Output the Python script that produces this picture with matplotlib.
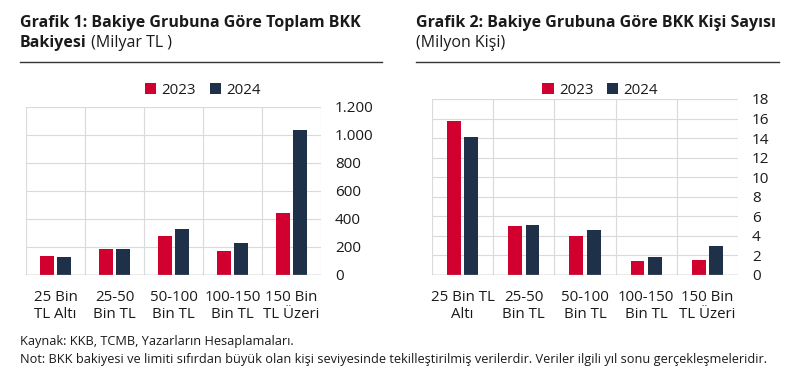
import numpy as np
import matplotlib
matplotlib.use("Agg")
import matplotlib.pyplot as plt
from matplotlib.lines import Line2D
from matplotlib.ticker import FuncFormatter

plt.rcParams['font.family'] = ['Open Sans', 'DejaVu Sans']

# data
years = ['2023', '2024']
groups1 = ['25 Bin\nTL Altı', '25-50\nBin TL', '50-100\nBin TL', '100-150\nBin TL', '150 Bin\nTL Üzeri']
groups2 = ['25 Bin TL\nAltı', '25-50\nBin TL', '50-100\nBin TL', '100-150\nBin TL', '150 Bin\nTL Üzeri']
bakiye_2023 = [138, 183, 280, 171, 444]
bakiye_2024 = [126, 188, 326, 228, 1036]
kisi_2023 = [15.7, 5.05, 4.0, 1.43, 1.57]
kisi_2024 = [14.1, 5.16, 4.6, 1.88, 2.94]
ticks1 = [0, 200, 400, 600, 800, 1000, 1200]
ticks2 = [0, 2, 4, 6, 8, 10, 12, 14, 16, 18]

red = '#D2002E'
navy = '#1E3148'
grid_c = '#DADADA'
txt = '#1a1a1a'

fig = plt.figure(figsize=(8, 3.7), dpi=100)
ax1 = fig.add_axes([26/800, 1-275/370, 295/800, 168.3/370])
ax2 = fig.add_axes([432/800, 1-275/370, 306/800, 176/370])

def thousands(v, pos):
    return '{:,.0f}'.format(v).replace(',', '.')

def draw(ax, labels, a, b, ticks, fmt):
    x = np.arange(len(labels))
    w = 0.225
    off = 0.142
    ax.bar(x - off, a, w, color=red, label=years[0], zorder=3)
    ax.bar(x + off, b, w, color=navy, label=years[1], zorder=3)
    ax.set_xlim(-0.5, len(labels) - 0.5)
    ax.set_ylim(ticks[0], ticks[-1])
    ax.set_yticks(ticks)
    if fmt:
        ax.yaxis.set_major_formatter(FuncFormatter(thousands))
    ax.yaxis.tick_right()
    ax.tick_params(axis='y', length=0, pad=10, labelsize=11, labelcolor=txt)
    ax.set_xticks(x)
    ax.set_xticklabels(labels, linespacing=1.2)
    ax.tick_params(axis='x', length=0, pad=11, labelsize=10.8, labelcolor=txt)
    for s in ax.spines.values():
        s.set_visible(False)
    for t in ticks[1:]:
        ax.axhline(t, color=grid_c, lw=0.8, zorder=1)
    for xb in np.arange(-0.5, len(labels), 1.0):
        ax.axvline(xb, color=grid_c, lw=0.8, zorder=1)
    ax.axhline(0, color='#9a9a9a', lw=1.0, zorder=4)

draw(ax1, groups1, bakiye_2023, bakiye_2024, ticks1, True)
draw(ax2, groups2, kisi_2023, kisi_2024, ticks2, False)

for ax, cx in [(ax1, 203/800), (ax2, 600/800)]:
    h, l = ax.get_legend_handles_labels()
    fig.legend(h, l, loc='center', bbox_to_anchor=(cx, 1-90/370), ncol=2, frameon=False,
               fontsize=10.8, handlelength=0.75, handleheight=0.75, handletextpad=0.35,
               columnspacing=0.9, borderpad=0, labelcolor=txt)

# titles
fig.text(20/800, 1-27/370, 'Grafik 1: Bakiye Grubuna Göre Toplam BKK', fontsize=11.5,
         fontweight='bold', color=txt, va='baseline')
t1 = fig.text(20/800, 1-47/370, 'Bakiyesi', fontsize=11.5, fontweight='bold', color=txt, va='baseline')
ax1.annotate(' (Milyar TL )', xy=(1, 0), xycoords=t1, fontsize=11.5, color=txt,
             va='bottom', ha='left', annotation_clip=False)
fig.text(416/800, 1-27/370, 'Grafik 2: Bakiye Grubuna Göre BKK Kişi Sayısı', fontsize=11.5,
         fontweight='bold', color=txt, va='baseline')
fig.text(416/800, 1-47/370, '(Milyon Kişi)', fontsize=11.5, color=txt, va='baseline')

fig.add_artist(Line2D([20/800, 382/800], [1-61.5/370]*2, color='#333333', lw=1.0))
fig.add_artist(Line2D([416/800, 779/800], [1-61.5/370]*2, color='#333333', lw=1.0))

fig.text(20/800, 1-345/370, 'Kaynak: KKB, TCMB, Yazarların Hesaplamaları.', fontsize=9.2,
         color=txt, va='baseline')
fig.text(20/800, 1-363/370, 'Not: BKK bakiyesi ve limiti sıfırdan büyük olan kişi seviyesinde '
         'tekilleştirilmiş verilerdir. Veriler ilgili yıl sonu gerçekleşmeleridir.',
         fontsize=9.2, color=txt, va='baseline')

fig.savefig('out.png', dpi=100)
